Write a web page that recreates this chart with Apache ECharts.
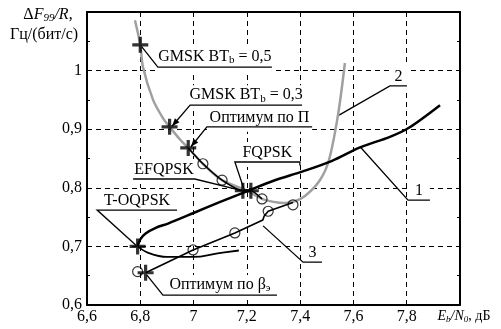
<!DOCTYPE html>
<html>
<head>
<meta charset="utf-8">
<script src="https://cdn.jsdelivr.net/npm/echarts@6/dist/echarts.min.js"></script>
<style>
  html, body { margin: 0; padding: 0; background: #fff; }
  #chart { width: 501px; height: 329px; }
</style>
</head>
<body>
<div id="chart"></div>
<script>
// --- data (Eb/N0 in dB, dF99/R in Hz/(bit/s)) ---
const curve1 = [[6.79,0.70],[6.80,0.712],[6.82,0.722],[6.86,0.732],[6.904,0.739],[7.0,0.757],[7.1,0.776],
  [7.2,0.794],[7.3,0.812],[7.41,0.828],[7.52,0.846],[7.625,0.869],[7.737,0.887],[7.81,0.903],[7.925,0.941]];
const curve1Low = [[6.79,0.70],[6.83,0.689],[6.9,0.682],[7.0,0.682],[7.09,0.688],[7.17,0.693]];
const curve2 = [[6.78,1.086],[6.80,1.044],[6.81,1.006],[6.848,0.95],[6.885,0.919],[6.91,0.904],[6.95,0.882],
  [6.98,0.868],[7.035,0.841],[7.107,0.813],[7.2,0.795],[7.257,0.781],[7.30,0.776],[7.34,0.774],[7.373,0.776],
  [7.418,0.786],[7.474,0.813],[7.508,0.847],[7.542,0.924],[7.568,1.013]];
const optLine = [[6.98,0.868],[7.035,0.841],[7.107,0.813],[7.185,0.795],[7.215,0.795],[7.257,0.781]];
const curve3 = [[6.82,0.655],[6.998,0.694],[7.155,0.723],[7.26,0.745],[7.265,0.752],[7.28,0.76],[7.373,0.775]];
const starPts = [[6.80,1.044],[6.91,0.904],[6.98,0.868],[7.185,0.795],[7.215,0.795],[6.79,0.70],[6.82,0.655]];
const circlePts = [[7.035,0.841],[7.107,0.813],[7.257,0.781],[7.373,0.771],[6.79,0.657],[6.998,0.694],[7.155,0.723],[7.28,0.76]];

// annotations: label text, leader polyline (first point = target, [1]-[2] = underline)
const annLabels = ['{n|GMSK BT}{s|b}{n| = 0,5}', '{n|GMSK BT}{s|b}{n| = 0,3}', '{n|Оптимум по П}', '{n|EFQPSK}',
  '{n|FQPSK}', '{n|T-OQPSK}', '{n|Оптимум по β}{s|э}', '{n|1}', '{n|2}', '{n|3}'];
const annLeaders = [
  [[6.80,1.044],[6.866,1.006],[7.294,1.006]],
  [[6.919,0.905],[6.987,0.941],[7.407,0.941]],
  [[6.990,0.870],[7.050,0.904],[7.445,0.904]],
  [[7.174,0.796],[7.005,0.815],[6.773,0.815]],
  [[7.189,0.798],[7.155,0.844],[7.399,0.844],[7.399,0.838]],
  [[6.784,0.702],[6.638,0.762],[6.938,0.762]],
  [[6.825,0.651],[6.885,0.617],[7.313,0.617]],
  [[7.625,0.870],[7.805,0.779],[7.887,0.779]],
  [[7.546,0.924],[7.737,0.974],[7.801,0.974]],
  [[7.261,0.735],[7.411,0.673],[7.482,0.673]]
];
const annArrow = [false, true, true, false, false, false, false, false, false, false];

const xMin = 6.6, xMax = 8.0, xStep = 0.2;
const yMin = 0.6, yMax = 1.1, yStep = 0.1;

const FONT = '"Liberation Serif", "Times New Roman", serif';
const rich = {
  n: { fontFamily: FONT, fontSize: 16, color: '#000', fill: '#000' },
  i: { fontFamily: FONT, fontSize: 16, fontStyle: 'italic', color: '#000', fill: '#000' },
  s: { fontFamily: FONT, fontSize: 11, color: '#000', fill: '#000', padding: [7, 0, 0, 0] },
  si: { fontFamily: FONT, fontSize: 11, fontStyle: 'italic', color: '#000', fill: '#000', padding: [7, 0, 0, 0] },
  // smaller set for the x axis name
  xn: { fontFamily: FONT, fontSize: 14, color: '#000' },
  xi0: { fontFamily: FONT, fontSize: 14, fontStyle: 'italic', color: '#000', padding: [0, 0, 0, 8] },
  xi: { fontFamily: FONT, fontSize: 14, fontStyle: 'italic', color: '#000' },
  xs: { fontFamily: FONT, fontSize: 9, fontStyle: 'italic', color: '#000', padding: [6, 0, 0, 0] }
};

const fmt = v => String(Math.round(v * 10) / 10).replace('.', ',');
const starSym = 'path://M6,0h3v6h6v3h-6v6h-3v-6h-6v-3h6z';

const chart = echarts.init(document.getElementById('chart'));
chart.setOption({
  backgroundColor: '#fff',
  animation: false,
  textStyle: { fontFamily: FONT },
  grid: { left: 87, right: 41, top: 12, bottom: 24 },
  xAxis: [{
    type: 'value', min: xMin, max: xMax, interval: xStep,
    axisLine: { lineStyle: { color: '#000', width: 2 } },
    axisTick: { inside: true, length: 4, lineStyle: { color: '#000' } },
    axisLabel: {
      margin: 4, color: '#000', fontFamily: FONT, fontSize: 16, rich: rich,
      formatter: v => Math.abs(v - 8) < 1e-6 ? '{xi0|E}{xs|b}{xi|/N}{xs|0}{xn|, дБ}' : '{n|' + fmt(v) + '}'
    },
    splitLine: { show: true, lineStyle: { color: '#000', type: [5, 4], width: 1 } }
  }, {
    type: 'value', position: 'top', min: xMin, max: xMax, interval: xStep,
    axisLine: { show: true, lineStyle: { color: '#000', width: 2 } },
    axisTick: { show: false }, axisLabel: { show: false }, splitLine: { show: false }
  }],
  yAxis: [{
    type: 'value', min: yMin, max: yMax, interval: yStep,
    axisLine: { show: true, lineStyle: { color: '#000', width: 2 } },
    axisTick: { show: true, inside: true, length: 4, lineStyle: { color: '#000' } },
    minorTick: { show: true, splitNumber: 2, length: 3, lineStyle: { color: '#000' } },
    axisLabel: {
      margin: 5, color: '#000', fontFamily: FONT, fontSize: 16,
      formatter: v => v > 1.05 ? '' : fmt(v)
    },
    splitLine: { show: true, lineStyle: { color: '#000', type: [5, 4], width: 1 } }
  }, {
    type: 'value', position: 'right', min: yMin, max: yMax, interval: yStep,
    axisLine: { show: true, lineStyle: { color: '#000', width: 2 } },
    axisTick: { show: true, inside: true, length: 4, lineStyle: { color: '#000' } },
    minorTick: { show: true, splitNumber: 2, length: 3, lineStyle: { color: '#000' } },
    axisLabel: { show: false }, splitLine: { show: false }
  }],
  graphic: [
    { type: 'text', x: 48, y: 15, style: { text: '{n|Δ}{i|F}{si|99}{i|/R}{n|,}', rich: rich, align: 'center', verticalAlign: 'middle' } },
    { type: 'text', x: 44, y: 35, style: { text: '{n|Гц/(бит/с)}', rich: rich, align: 'center', verticalAlign: 'middle' } }
  ],
  series: [
    {
      type: 'custom', z: 1, clip: false,
      data: annLabels.map((t, i) => [xMin, yMin, i]),
      renderItem: function (params, api) {
        const i = params.dataIndex;
        const pts = annLeaders[i].map(p => api.coord(p));
        const a = pts[1], b = pts[2];
        const x0 = Math.min(a[0], b[0]), x1 = Math.max(a[0], b[0]);
        const children = [
          { type: 'rect', shape: { x: x0, y: a[1] - 20, width: x1 - x0, height: 25 }, style: { fill: '#fff' } },
          { type: 'polyline', shape: { points: pts }, style: { stroke: '#000', lineWidth: 1.3, fill: null } },
          { type: 'text', x: (x0 + x1) / 2, y: a[1] - 1,
            style: { text: annLabels[i], rich: rich, align: 'center', verticalAlign: 'bottom' } }
        ];
        if (annArrow[i]) {
          const t = pts[0], f = pts[1];
          const dx = t[0] - f[0], dy = t[1] - f[1], L = Math.hypot(dx, dy);
          const ux = dx / L, uy = dy / L, len = 8, w = 3;
          const bx = t[0] - ux * len, by = t[1] - uy * len;
          children.push({ type: 'polygon', shape: { points: [t, [bx - uy * w, by + ux * w], [bx + uy * w, by - ux * w]] }, style: { fill: '#000' } });
        }
        return { type: 'group', children: children };
      }
    },
    { type: 'line', z: 3, data: curve2, smooth: 0.3, showSymbol: false, lineStyle: { color: '#a0a0a0', width: 2.5 } },
    { type: 'line', z: 4, data: curve1, smooth: 0.3, showSymbol: false, lineStyle: { color: '#000', width: 2.5 } },
    { type: 'line', z: 4, data: curve1Low, smooth: 0.4, showSymbol: false, lineStyle: { color: '#000', width: 1.8 } },
    { type: 'line', z: 4, data: optLine, smooth: 0.2, showSymbol: false, lineStyle: { color: '#000', width: 1.6 } },
    { type: 'line', z: 4, data: curve3, showSymbol: false, lineStyle: { color: '#000', width: 1.6 } },
    { type: 'scatter', z: 5, data: circlePts, symbol: 'circle', symbolSize: 10,
      itemStyle: { color: 'rgba(255,255,255,0)', borderColor: '#000', borderWidth: 1.2 } },
    { type: 'scatter', z: 6, data: starPts, symbol: starSym, symbolSize: 16, itemStyle: { color: '#000' } }
  ]
});
</script>
</body>
</html>
